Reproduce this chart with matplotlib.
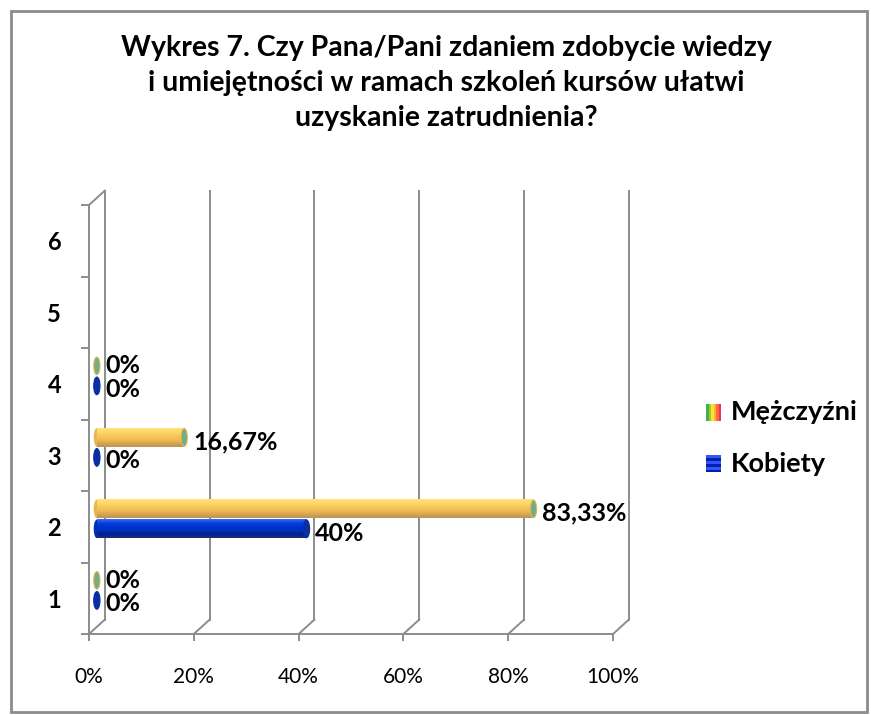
import matplotlib
matplotlib.use('Agg')
import matplotlib.pyplot as plt
from matplotlib.patches import Ellipse, Rectangle, Patch
from matplotlib.legend_handler import HandlerBase
from matplotlib.colors import to_rgb
import numpy as np

plt.rcParams['font.family'] = ['Lato', 'DejaVu Sans']

# --- data ---
categories = ['1', '2', '3', '4', '5', '6']
kobiety = [0, 40, 0, 0, None, None]
mezczyzni = [0, 83.33, 16.67, 0, None, None]
kobiety_labels = ['0%', '40%', '0%', '0%', '', '']
mezczyzni_labels = ['0%', '83,33%', '16,67%', '0%', '', '']
x_ticks = [0, 20, 40, 60, 80, 100]
x_tick_labels = ['0%', '20%', '40%', '60%', '80%', '100%']
series_names = ['Mężczyźni', 'Kobiety']
title = ('Wykres 7. Czy Pana/Pani zdaniem zdobycie wiedzy\n'
         'i umiejętności w ramach szkoleń kursów ułatwi\n'
         'uzyskanie zatrudnienia?')

W, H = 871, 715
fig = plt.figure(figsize=(W / 100, H / 100), dpi=100)
ax = fig.add_axes([89 / W, (H - 634) / H, 524 / W, 429 / H])
ax.set_xlim(0, 100)
ax.set_ylim(0.5, 6.5)

grid_col = '#8c8c8c'
depth_x, depth_y = 3.0, 0.2   # fake 3D depth, data units
bar_h = 0.26

# walls / grid
for x in x_ticks:
    ax.plot([x + depth_x] * 2, [0.5 + depth_y, 6.5 + depth_y], color=grid_col, lw=1.4, clip_on=False, zorder=1)
    ax.plot([x, x + depth_x], [0.5, 0.5 + depth_y], color=grid_col, lw=1.4, clip_on=False, zorder=1)
ax.plot([0, depth_x], [6.5, 6.5 + depth_y], color=grid_col, lw=1.4, clip_on=False, zorder=1)

for s in ['top', 'right']:
    ax.spines[s].set_visible(False)
for s in ['left', 'bottom']:
    ax.spines[s].set_color(grid_col)
    ax.spines[s].set_linewidth(1.4)

ax.set_xticks(x_ticks)
ax.set_xticklabels(x_tick_labels, fontsize=15)
ax.tick_params(axis='x', length=5, width=1.4, color=grid_col, pad=19)
ax.set_yticks(range(1, 7))
ax.set_yticklabels(categories, fontsize=17, fontweight='bold')
ax.tick_params(axis='y', length=0, pad=20)
ax.set_yticks(np.arange(0.5, 7, 1), minor=True)
ax.tick_params(axis='y', which='minor', length=6, width=1.4, color=grid_col)


def gradient(cols, n=40):
    rgb = np.array([to_rgb(c) for c in cols])
    t = np.linspace(0, 1, n)
    pos = np.linspace(0, 1, len(cols))
    return np.stack([np.interp(t, pos, rgb[:, k]) for k in range(3)], axis=1)[:, None, :]


orange_grad = gradient(['#FFE27E', '#FFD766', '#F9C85C', '#F2BC55', '#D9A650', '#B8935A'])
blue_grad = gradient(['#3A6AF0', '#0A3FE0', '#0033CC', '#0030C0', '#00208C', '#1A2F80'])

series = [
    (mezczyzni, mezczyzni_labels, 0.15, orange_grad, '#E8B752', '#6FAE86', 0.0),
    (kobiety, kobiety_labels, -0.13, blue_grad, '#0030B8', '#102E9A', -0.05),
]

for vals, labels, shift, grad, endcol, capcol, zero_dy in series:
    for i, v in enumerate(vals):
        if v is None:
            continue
        yc = i + 1 + shift + depth_y / 2
        x0 = depth_x / 2
        if v > 0:
            ax.imshow(grad, extent=(x0, x0 + v, yc - bar_h / 2, yc + bar_h / 2),
                      aspect='auto', interpolation='bilinear', zorder=3)
            ax.add_patch(Ellipse((x0, yc), 1.2, bar_h, facecolor=endcol, edgecolor='none', zorder=2.9))
        ax.add_patch(Ellipse((x0 + v, yc), 1.2, bar_h * 0.95, facecolor=capcol,
                             edgecolor=endcol, lw=0.8, zorder=4))
        dy = -0.06 if v > 0 else zero_dy
        ax.text(x0 + v + 1.7, yc + dy, labels[i], fontsize=18, fontweight='bold',
                ha='left', va='center', zorder=5)

ax.set_xlim(0, 100)
ax.set_ylim(0.5, 6.5)


class StripeHandler(HandlerBase):
    def __init__(self, colors, vertical):
        super().__init__()
        self.colors = colors
        self.vertical = vertical

    def create_artists(self, legend, orig_handle, xd, yd, width, height, fontsize, trans):
        n = len(self.colors)
        arts = []
        for k, c in enumerate(self.colors):
            if self.vertical:
                r = Rectangle((xd + width * k / n, yd), width / n, height)
            else:
                r = Rectangle((xd, yd + height * k / n), width, height / n)
            r.set_facecolor(c)
            r.set_edgecolor('none')
            r.set_transform(trans)
            arts.append(r)
        return arts


h_m = Patch(label=series_names[0])
h_k = Patch(label=series_names[1])
fig.legend([h_m, h_k], series_names,
           handler_map={h_m: StripeHandler(['#3BB54A', '#9ACD32', '#FFE135', '#FFB030', '#FF6A3A', '#F0305A'], True),
                        h_k: StripeHandler(['#0022AA', '#3355FF', '#0022AA', '#3355FF', '#0022AA', '#3355FF'], False)},
           loc='center left', bbox_to_anchor=(682 / W, 1 - 438 / H), frameon=False,
           handlelength=0.55, handleheight=0.6, handletextpad=0.35,
           labelspacing=1.0, prop={'weight': 'bold', 'size': 19.5})

fig.text(446 / W, 1 - 83 / H, title, ha='center', va='center', fontsize=20.5,
         fontweight='bold', linespacing=1.42)

fig.patches.append(Rectangle((11 / W, 3 / H), 856 / W, 701 / H, transform=fig.transFigure,
                             facecolor='none', edgecolor='#8c8c8c', lw=2))

fig.savefig('out.png', dpi=100)
